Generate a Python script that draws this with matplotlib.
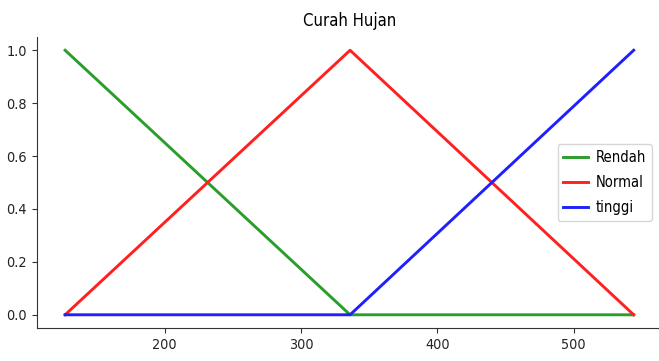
import matplotlib
matplotlib.use("Agg")
import matplotlib.pyplot as plt

plt.rcParams['font.family'] = ['DejaVu Sans']
plt.rcParams['font.stretch'] = 'condensed'

# titik-titik fungsi keanggotaan curah hujan
x_pts = [127, 336, 544]
rendah = [1, 0, 0]
normal = [0, 1, 0]
tinggi = [0, 0, 1]

fig = plt.figure(figsize=(6.59, 3.61), dpi=100)
ax = fig.add_axes([0.0557, 0.0914, 0.949, 0.806])

ax.plot(x_pts, rendah, color='#2a9e2a', linewidth=2.1, label='Rendah')
ax.plot(x_pts, normal, color='#ff2020', linewidth=2.1, label='Normal')
ax.plot(x_pts, tinggi, color='#2020ff', linewidth=2.1, label='tinggi')

ax.set_title('Curah Hujan', fontsize=12, pad=8)
ax.set_xticks([200, 300, 400, 500])
ax.set_yticks([0.0, 0.2, 0.4, 0.6, 0.8, 1.0])
ax.tick_params(labelsize=10.3, colors='#333333', labelcolor='#222222')
for s in ['left', 'bottom']:
    ax.spines[s].set_color('#333333')
ax.spines['top'].set_visible(False)
ax.spines['right'].set_visible(False)
ax.legend(loc='center right', fontsize=10.5, labelspacing=0.7,
          handlelength=1.7, handletextpad=0.5, bbox_to_anchor=(0.995, 0.5))

fig.savefig('out.png', dpi=100)
